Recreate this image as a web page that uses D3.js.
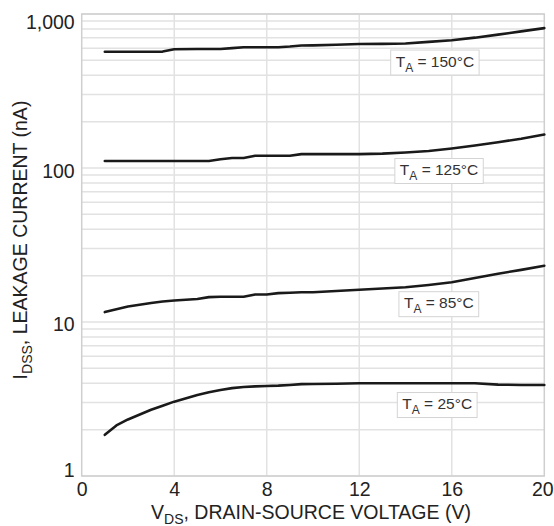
<!DOCTYPE html>
<html>
<head>
<meta charset="utf-8">
<script src="https://cdn.jsdelivr.net/npm/d3@7"></script>
<style>
  html, body { margin: 0; padding: 0; background: #fff; }
  svg { display: block; font-family: "Liberation Sans", Arial, sans-serif; }
</style>
</head>
<body>
<svg id="chart" width="554" height="526"></svg>
<script>
// Drain-source voltage (V) sample points shared by all curves
const vds = [1, 1.5, 2, 3, 3.5, 4, 5, 5.5, 6, 6.5, 7, 7.5, 8, 8.5, 9, 9.5, 10, 11, 12, 13, 14, 15, 16, 17, 18, 19, 20];

// Leakage current IDSS (nA) at each ambient temperature
const idss150 = [569, 569, 569, 569, 570, 590, 593, 593, 593, 600, 608, 608, 608, 608, 615, 625, 626, 632, 638, 640, 644, 659, 676, 702, 735, 771, 810];
const idss125 = [111, 111, 111, 111, 111, 111, 111, 111, 114, 116, 116, 120, 120, 120, 120, 123, 123, 123, 123, 124, 126, 129, 134, 140, 147, 155, 165];
const idss85  = [11.6, 12.1, 12.6, 13.3, 13.6, 13.8, 14.1, 14.5, 14.6, 14.6, 14.6, 15.1, 15.1, 15.4, 15.5, 15.6, 15.6, 15.9, 16.2, 16.5, 16.8, 17.4, 18.1, 19.3, 20.6, 21.8, 23.2];
const idss25  = [1.85, 2.13, 2.33, 2.69, 2.86, 3.04, 3.36, 3.5, 3.62, 3.72, 3.78, 3.82, 3.84, 3.86, 3.9, 3.95, 3.96, 3.97, 4.0, 4.0, 4.0, 4.0, 4.0, 4.0, 3.92, 3.9, 3.9];

const temps = [150, 125, 85, 25];
const seriesValues = [idss150, idss125, idss85, idss25];

// Where each temperature tag sits, in data units (V, nA)
const tagVoltage = [15.27, 15.45, 15.44, 15.37];
const tagCurrent = [484, 95.6, 13.05, 2.89];

const xTicks = [0, 4, 8, 12, 16, 20];
const yTicks = [1, 10, 100, 1000];
const yTickLabels = ["1", "10", "100", "1,000"];

const margin = { left: 81.7, right: 554 - 544.3, top: 14, bottom: 526 - 476 };
const W = 554, H = 526;
const svg = d3.select("#chart");

const x = d3.scaleLinear().domain([0, 20]).range([margin.left, W - margin.right]);
const y = d3.scaleLog().domain([1, 1000]).range([H - margin.bottom, margin.top]);

const gridColor = "#e2e2e2";
const labelFont = 19.5;

// Horizontal grid: every 1..9 x 10^k
svg.append("g")
  .selectAll("line")
  .data(y.ticks())
  .join("line")
  .attr("x1", x(0)).attr("x2", x(20))
  .attr("y1", d => y(d)).attr("y2", d => y(d))
  .attr("stroke", gridColor)
  .attr("stroke-width", 1.5);

// Vertical grid
svg.append("g")
  .selectAll("line")
  .data(xTicks.slice(1, -1))
  .join("line")
  .attr("x1", d => x(d)).attr("x2", d => x(d))
  .attr("y1", y(1)).attr("y2", y(1000))
  .attr("stroke", gridColor)
  .attr("stroke-width", 1.5);

// Plot frame
svg.append("rect")
  .attr("x", x(0)).attr("y", y(1000))
  .attr("width", x(20) - x(0)).attr("height", y(1) - y(1000))
  .attr("fill", "none")
  .attr("stroke", "#cfcfcf")
  .attr("stroke-width", 1.5);

// Axes (labels only)
const xAxis = svg.append("g")
  .attr("transform", `translate(0,${y(1)})`)
  .call(d3.axisBottom(x).tickValues(xTicks).tickFormat(d3.format("d")).tickSize(0).tickPadding(6));
xAxis.select(".domain").remove();
xAxis.selectAll("text")
  .attr("font-size", labelFont)
  .attr("fill", "#222")
  .attr("font-family", "Liberation Sans, Arial, sans-serif")
  .attr("dx", d => d === 20 ? -2 : 0);

const yNudge = { 1: -5.5, 10: 2, 100: 3, 1000: 8 };
const yAxis = svg.append("g")
  .attr("transform", `translate(${x(0)},0)`)
  .call(d3.axisLeft(y).tickValues(yTicks).tickFormat((d, i) => yTickLabels[i]).tickSize(0).tickPadding(7));
yAxis.select(".domain").remove();
yAxis.selectAll("text")
  .attr("font-size", labelFont)
  .attr("fill", "#222")
  .attr("font-family", "Liberation Sans, Arial, sans-serif")
  .attr("transform", d => `translate(0,${yNudge[d]})`);

// Curves
const line = d3.line()
  .x((d, i) => x(vds[i]))
  .y(d => y(d));

svg.append("g")
  .selectAll("path")
  .data(seriesValues)
  .join("path")
  .attr("d", line)
  .attr("fill", "none")
  .attr("stroke", "#1a1a1a")
  .attr("stroke-width", 2.6)
  .attr("stroke-linejoin", "round")
  .attr("stroke-linecap", "round");

// Temperature tags
temps.forEach((t, i) => {
  const cx = x(tagVoltage[i]);
  const cy = y(tagCurrent[i]);
  const g = svg.append("g");
  const rect = g.append("rect")
    .attr("fill", "#fff")
    .attr("stroke", "#d4d4d4")
    .attr("stroke-width", 1);
  const txt = g.append("text")
    .attr("x", cx)
    .attr("y", cy + 4)
    .attr("text-anchor", "middle")
    .attr("font-size", 15.5)
    .attr("fill", "#333");
  txt.append("tspan").text("T");
  txt.append("tspan").attr("font-size", 12).attr("dy", 5).text("A");
  txt.append("tspan").attr("dy", -5).text(` = ${t}°C`);
  const bb = txt.node().getBBox();
  rect.attr("x", bb.x - 5).attr("y", cy - 12.5)
    .attr("width", bb.width + 10).attr("height", 25);
});

// Axis titles
const xt = svg.append("text")
  .attr("x", (x(0) + x(20)) / 2 - 2)
  .attr("y", 519)
  .attr("text-anchor", "middle")
  .attr("font-size", labelFont)
  .attr("fill", "#222");
xt.append("tspan").text("V");
xt.append("tspan").attr("font-size", 14).attr("dy", 5).text("DS");
xt.append("tspan").attr("dy", -5).text(", DRAIN-SOURCE VOLTAGE (V)");

const yt = svg.append("text")
  .attr("transform", `translate(27,${240}) rotate(-90)`)
  .attr("text-anchor", "middle")
  .attr("font-size", labelFont)
  .attr("fill", "#222");
yt.append("tspan").text("I");
yt.append("tspan").attr("font-size", 14).attr("dy", 5).text("DSS");
yt.append("tspan").attr("dy", -5).text(", LEAKAGE CURRENT (nA)");
</script>
</body>
</html>
